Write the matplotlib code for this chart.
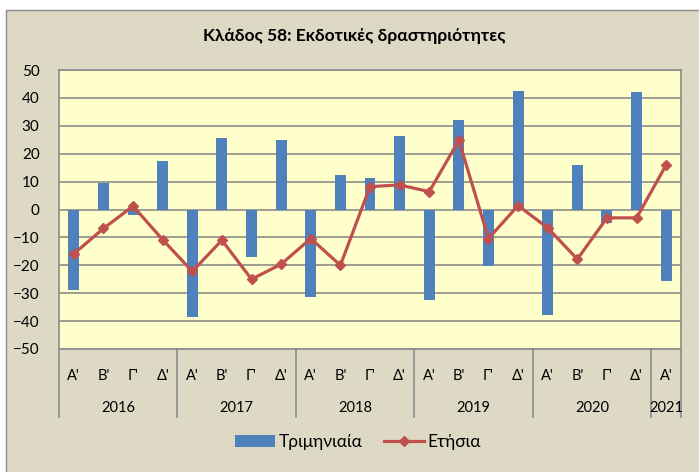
import numpy as np
import matplotlib.pyplot as plt
from matplotlib.patches import Rectangle
from matplotlib.lines import Line2D

plt.rcParams['font.family'] = ['Lato', 'DejaVu Sans']

# Δεδομένα
years = ['2016', '2017', '2018', '2019', '2020', '2021']
quarters = ["Α'", "Β'", "Γ'", "Δ'"] * 5 + ["Α'"]
triminiaia = [-28.7, 9.6, -1.9, 17.3,
              -38.4, 25.7, -16.9, 25.0,
              -31.2, 12.4, 11.4, 26.2,
              -32.6, 31.9, -20.2, 42.5,
              -37.8, 15.8, -5.0, 42.2,
              -25.8]
etisia = [-15.9, -6.8, 1.2, -10.8,
          -22.2, -11.0, -25.0, -19.6,
          -10.4, -20.0, 8.2, 8.8,
          6.4, 24.8, -10.4, 1.4,
          -6.6, -17.8, -3.0, -3.0,
          16.0]
n_per_year = [4, 4, 4, 4, 4, 1]

W, H = 699, 472
fig = plt.figure(figsize=(W / 100, H / 100), dpi=100)
fig.patch.set_facecolor('white')
bg = Rectangle((6 / W, -0.01), 1, 1.01 - 10 / H, transform=fig.transFigure,
               facecolor='#DDD9C4', edgecolor='#8C8C8C', lw=1, zorder=-5)
fig.add_artist(bg)

ax = fig.add_axes([59 / W, 1 - 349 / H, 622 / W, 279 / H])
ax.set_zorder(2)
ax.set_facecolor('#FFFFCC')
x = np.arange(len(triminiaia))

bars = ax.bar(x, triminiaia, width=0.37, color='#4F81BD', zorder=2)
line, = ax.plot(x, etisia, color='#C0504D', lw=2.3, marker='D', ms=5.5, zorder=3)

ax.set_xlim(-0.5, len(x) - 0.5)
ax.set_ylim(-50, 50)
ax.set_yticks(np.arange(-50, 51, 10))
ax.yaxis.grid(True, color='#8C8C8C', lw=1.2, zorder=1)
ax.set_axisbelow(True)
ax.tick_params(axis='y', length=0, labelsize=11, pad=14)
ax.set_xticks([])
for s in ax.spines.values():
    s.set_color('#8C8C8C')
    s.set_linewidth(1.2)

# ετικέτες κατηγοριών
trans = ax.get_xaxis_transform()
for i, q in enumerate(quarters):
    ax.text(i, -0.095, q, transform=trans, ha='center', va='center', fontsize=10.5)
start = 0
bounds = [-0.5]
for yr, n in zip(years, n_per_year):
    ax.text(start + (n - 1) / 2, -0.21, yr, transform=trans, ha='center', va='center', fontsize=10.5)
    start += n
    bounds.append(start - 0.5)
for b in bounds:
    ax.add_line(Line2D([b, b], [0, -0.245], transform=trans, color='#8C8C8C', lw=1.2, clip_on=False))

fig.text(354 / W, 1 - 36 / H, 'Κλάδος 58: Εκδοτικές δραστηριότητες', ha='center', va='center',
         fontsize=12.5, fontweight='bold')

fig.legend([bars, line], ['Τριμηνιαία', 'Ετήσια'], loc='center',
           bbox_to_anchor=(358 / W, 1 - 442 / H), ncol=2, frameon=False,
           fontsize=12.5, handlelength=2.3, columnspacing=1.2, handletextpad=0.2)

fig.savefig('out.png', dpi=100)
